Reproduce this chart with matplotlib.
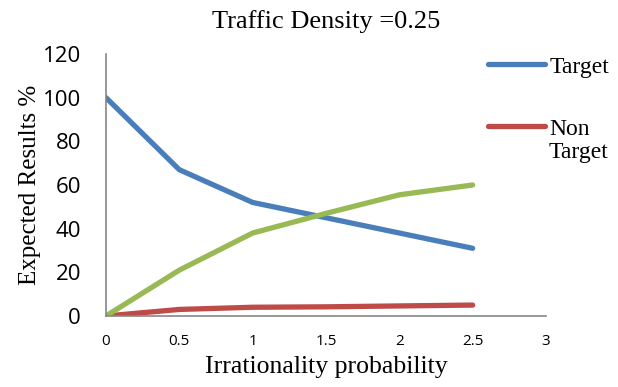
import matplotlib.pyplot as plt

x = [0, 0.5, 1, 1.5, 2, 2.5]
target = [100, 67, 52, 45, 38, 31]
non_target = [0, 3, 4, 4.2, 4.6, 5]
other = [0, 21, 38, 47, 55.5, 60]

serif = 'Liberation Serif'

fig = plt.figure(figsize=(6.18, 3.87), dpi=100)
ax = fig.add_axes([0.1715, 0.1835, 0.712, 0.677])

ax.plot(x, target, color='#4A7EBB', lw=3.8, solid_capstyle='round', label='Target')
ax.plot(x, non_target, color='#BE4B48', lw=3.8, solid_capstyle='round', label='Non')
ax.plot(x, other, color='#98B954', lw=3.8, solid_capstyle='round')

ax.set_xlim(0, 3)
ax.set_ylim(0, 120)
ax.set_xticks([0, 0.5, 1, 1.5, 2, 2.5, 3])
ax.set_xticklabels(['0', '0.5', '1', '1.5', '2', '2.5', '3'])
ax.set_yticks(range(0, 121, 20))
ax.tick_params(axis='both', length=0)
ax.tick_params(axis='x', labelsize=11, pad=13)
ax.tick_params(axis='y', labelsize=16, pad=18)
for lab in ax.get_xticklabels() + ax.get_yticklabels():
    lab.set_family('Open Sans')
for s in ['top', 'right']:
    ax.spines[s].set_visible(False)
for s in ['left', 'bottom']:
    ax.spines[s].set_color('#868686')
    ax.spines[s].set_linewidth(1.2)

ax.set_title('Traffic Density =0.25', family=serif, fontsize=19, pad=19)
ax.set_xlabel('Irrationality probability', family=serif, fontsize=18.5, labelpad=5)
ax.set_ylabel('Expected Results %', family=serif, fontsize=18, labelpad=1)

ax.legend(loc='upper left', bbox_to_anchor=(0.7896, 0.855), bbox_transform=fig.transFigure,
          frameon=False, handlelength=2.42, handletextpad=0.17, labelspacing=1.71,
          borderpad=0, borderaxespad=0, prop={'family': serif, 'size': 17})
fig.text(0.888, 0.607, 'Target', family=serif, fontsize=17, va='center', ha='left')

fig.savefig('out.png', dpi=100)
